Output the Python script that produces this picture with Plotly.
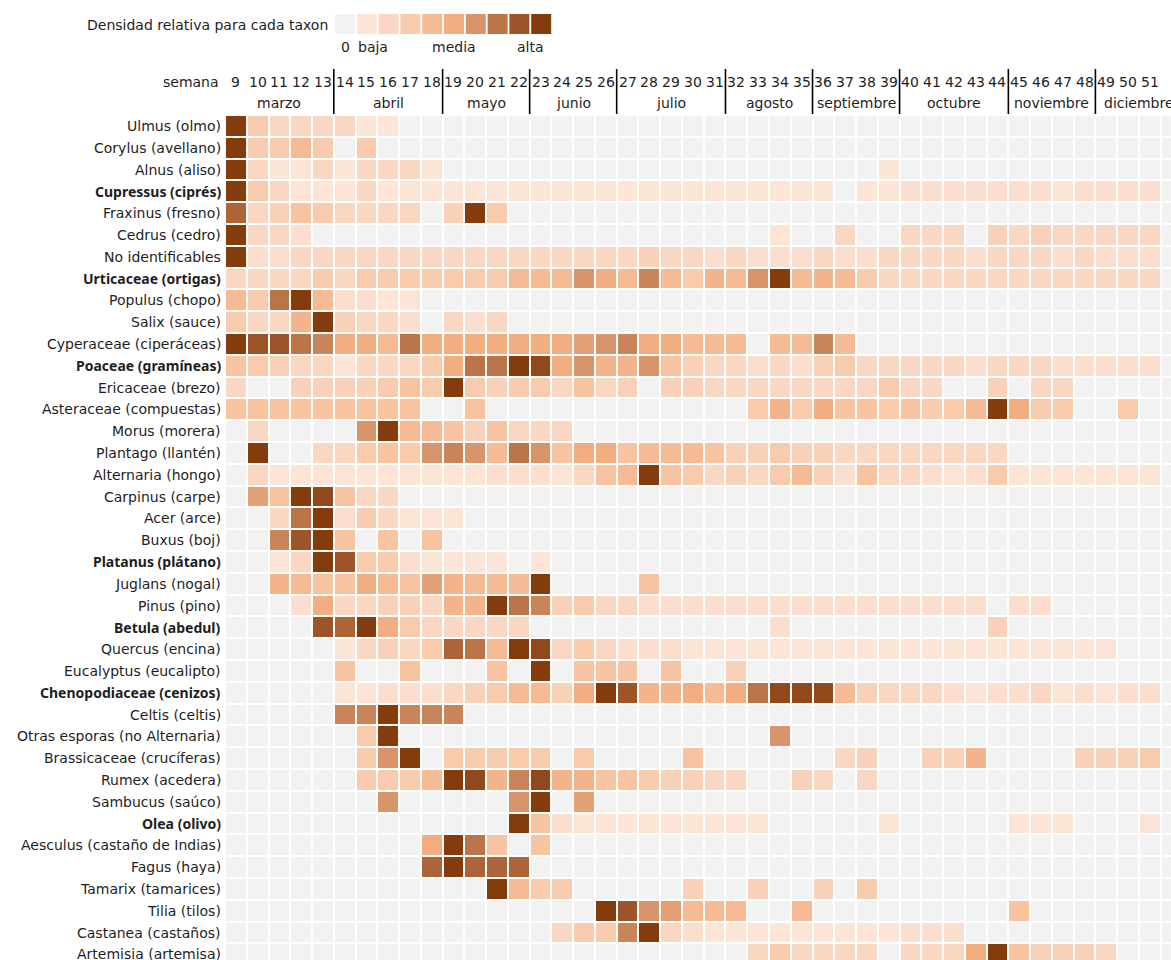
import plotly.graph_objects as go

weeks = list(range(9, 53))
week_labels = [str(w) for w in range(9, 52)]  # week 52 label falls outside the view

taxa = ["Ulmus (olmo)", "Corylus (avellano)", "Alnus (aliso)", "Cupressus (ciprés)",
        "Fraxinus (fresno)", "Cedrus (cedro)", "No identificables", "Urticaceae (ortigas)",
        "Populus (chopo)", "Salix (sauce)", "Cyperaceae (ciperáceas)", "Poaceae (gramíneas)",
        "Ericaceae (brezo)", "Asteraceae (compuestas)", "Morus (morera)", "Plantago (llantén)",
        "Alternaria (hongo)", "Carpinus (carpe)", "Acer (arce)", "Buxus (boj)",
        "Platanus (plátano)", "Juglans (nogal)", "Pinus (pino)", "Betula (abedul)",
        "Quercus (encina)", "Eucalyptus (eucalipto)", "Chenopodiaceae (cenizos)", "Celtis (celtis)",
        "Otras esporas (no Alternaria)", "Brassicaceae (crucíferas)", "Rumex (acedera)",
        "Sambucus (saúco)", "Olea (olivo)", "Aesculus (castaño de Indias)", "Fagus (haya)",
        "Tamarix (tamarices)", "Tilia (tilos)", "Castanea (castaños)", "Artemisia (artemisa)"]

bold_taxa = ["Cupressus (ciprés)", "Urticaceae (ortigas)", "Poaceae (gramíneas)",
             "Platanus (plátano)", "Betula (abedul)", "Chenopodiaceae (cenizos)", "Olea (olivo)"]

months = ["marzo", "abril", "mayo", "junio", "julio", "agosto", "septiembre",
          "octubre", "noviembre", "diciembre"]
month_first_week = [9, 14, 19, 23, 27, 32, 36, 40, 45, 49]
month_last_week = [13, 18, 22, 26, 31, 35, 39, 44, 48, 52]

# relative density level (0 = none, 1 = low ... 9 = high), weeks 9..52
# groups per month:   mar(9-13)      abr(14-18)       may(19-22)   jun(23-26)   jul(27-31)      ago(32-35)   sep(36-39)   oct(40-44)      nov(45-48)   dic(49-52)
density = [
    [9,3,2,2,2,       2,1,1,0,0,       0,0,0,0,     0,0,0,0,     0,0,0,0,0,      0,0,0,0,     0,0,0,0,     0,0,0,0,0,      0,0,0,0,     0,0,0,0],  # Ulmus
    [9,3,3,4,3,       0,3,0,0,0,       0,0,0,0,     0,0,0,0,     0,0,0,0,0,      0,0,0,0,     0,0,0,0,     0,0,0,0,0,      0,0,0,0,     0,0,0,0],  # Corylus
    [9,2,1,1,2,       1,2,2,2,1,       0,0,0,0,     0,0,0,0,     0,0,0,0,0,      0,0,0,0,     0,0,0,1,     0,0,0,0,0,      0,0,0,0,     0,0,0,0],  # Alnus
    [9,3,2,1,1,       1,2,1,1,1,       1,1,1,1,     1,1,1,1,     1,1,1,1,1,      1,1,1,1,     1,0,1,1,     1.5,1.5,1.5,1.5,1.5, 1.5,1.5,1,1.5, 1.5,1.5,1.5,0],  # Cupressus
    [7.5,2,2.5,3.5,3, 2,2,2,2,0,       2.5,9,3,0,   0,0,0,0,     0,0,0,0,0,      0,0,0,0,     0,0,0,0,     0,0,0,0,0,      0,0,0,0,     0,0,0,0],  # Fraxinus
    [9,2,2,1.5,0,     0,0,0,0,0,       0,0,0,0,     0,0,0,0,     0,0,0,0,0,      0,0,1,0,     0,2,0,0,     2,2,2,0,2.5,    2,2.5,2,2,   2,2,2,0],  # Cedrus
    [9,1.5,1.5,2,2,   2,2,2,2,2,       2,2,2,2,     2,2,2,2,     2,2.5,2,2,1.5,  2,1.5,1.5,1.5, 2,1.5,1.5,2, 2,2,2,1.5,2,    2,2,1.5,2,   1.5,1.5,1.5,0],  # No identificables
    [2,2,2,2,3,       2,3,3,3,3,       3,3,3,4,     4,4,6,5,     4,6.5,4,3,4.5,  4,6,9,4,     4.5,4,3,2,   2,2,2,2,2,      2,2,2,2,     2,2,2,0],  # Urticaceae
    [4,3,7,9,4,       1.5,1.5,1,1,0,   0,0,0,0,     0,0,0,0,     0,0,0,0,0,      0,0,0,0,     0,0,0,0,     0,0,0,0,0,      0,0,0,0,     0,0,0,0],  # Populus
    [3,2,2,4.5,9,     2.5,2,2,1.5,0,   2,1.5,2,0,   0,0,0,0,     0,0,0,0,0,      0,0,0,0,     0,0,0,0,     0,0,0,0,0,      0,0,0,0,     0,0,0,0],  # Salix
    [9,8,8,7,6.5,     5,5,4,7,5,       5,5,5,5,     5,5,5.5,6,   6.5,5,5,4,4,    4,0,4,4,     6.5,4,0,0,   0,0,0,0,0,      0,0,0,0,     0,0,0,0],  # Cyperaceae
    [3.5,3,2.5,2,2,   1,2,2,2,3,       5,7,7,9,     8.5,5,6,4.5, 4.5,6,3.5,2.5,2, 2,1.5,2,1.5, 2.5,3,2,2,   2,2,2,1.5,2,    2,2,1.5,1.5, 1.5,1.5,1.5,0],  # Poaceae
    [2,0,0,2.5,2.5,   2.5,2.5,3,3.5,3, 9,3,2.5,3,   3,2,3.5,2,   2.5,0,2.5,2.5,2, 2,2,2,2,    2,2,2,3,     2,2,0,0,2.5,    0,2,2,0,     0,0,0,0],  # Ericaceae
    [3.5,3.5,3.5,3.5,3.5, 3.5,3.5,3.5,3.5,0, 0,3.5,0,0, 0,0,0,0,   0,0,0,0,0,      0,3,4.5,3,   5,3.5,3.5,3, 3.5,3,3,4,9,    5,3,3,0,     0,3,0,0],  # Asteraceae
    [0,2,0,0,0,       0,6,9,4,4,       3.5,2.5,3.5,2, 2,2,0,0,   0,0,0,0,0,      0,0,0,0,     0,0,0,0,     0,0,0,0,0,      0,0,0,0,     0,0,0,0],  # Morus
    [0,9,0,0,2,       2,3,3.5,3,6,     6.5,6,4,7,   6,3.5,5,5,   3.5,4,4,4,3.5,  2.5,2.5,3,2.5, 2.5,2,2,2, 2,2,2,2,2,      0,0,0,0,     0,0,0,0],  # Plantago
    [0,2,1,1,1,       1,1,1,1,1,       1,1,1.5,1.5, 1.5,1,2,3.5, 4,9,3.5,3,2,    2.5,2,3,4,   2.5,1.5,3.5,2, 2,1.5,1,1.5,3, 1,1,1,1,     1,1,1,0],  # Alternaria
    [0,5.5,3.5,9,8.5, 3.5,2,2,0,0,     0,0,0,0,     0,0,0,0,     0,0,0,0,0,      0,0,0,0,     0,0,0,0,     0,0,0,0,0,      0,0,0,0,     0,0,0,0],  # Carpinus
    [0,0,2,7,9,       1.5,3,2,1,1,     1,0,0,0,     0,0,0,0,     0,0,0,0,0,      0,0,0,0,     0,0,0,0,     0,0,0,0,0,      0,0,0,0,     0,0,0,0],  # Acer
    [0,0,6.5,8,9,     3.5,0,3.5,0,3.5, 0,0,0,0,     0,0,0,0,     0,0,0,0,0,      0,0,0,0,     0,0,0,0,     0,0,0,0,0,      0,0,0,0,     0,0,0,0],  # Buxus
    [0,0,1,2,9,       8,3,3,1.5,1,     1,1,1,0,     1,0,0,0,     0,0,0,0,0,      0,0,0,0,     0,0,0,0,     0,0,0,0,0,      0,0,0,0,     0,0,0,0],  # Platanus
    [0,0,4.5,4,3.5,   3.5,5,4,3.5,5.5, 4.5,4,4,4,   9,0,0,0,     0,3.5,0,0,0,    0,0,0,0,     0,0,0,0,     0,0,0,0,0,      0,0,0,0,     0,0,0,0],  # Juglans
    [0,0,0,1.5,5,     2,2,2.5,2.5,2,   4.5,4.5,9,7, 6.5,2.5,3,2, 2,1.5,1.5,1.5,1.5, 1.5,1.5,1.5,1.5, 1.5,1.5,1.5,1.5, 1.5,1.5,1.5,1.5,0, 1.5,1.5,0,0, 0,0,0,0],  # Pinus
    [0,0,0,0,8,       7.5,9,5,3,2,     2,2,2,2,     0,0,0,0,     0,0,0,0,0,      0,0,1.5,0,   0,0,0,0,     0,0,0,0,2.5,    0,0,0,0,     0,0,0,0],  # Betula
    [0,0,0,0,0,       1,2,2.5,2,3,     7.5,7,4,9,   8.5,2,3,2,   1.5,1.5,1.5,1,1, 1,1,1,1,    1,1,1,1,     1,1,1,1,1,      1,1,1,1,     1,0,0,0],  # Quercus
    [0,0,0,0,0,       3.5,0,0,3.5,0,   0,0,3.5,0,   9,0,3.5,3.5, 3.5,0,3.5,0,0,  2.5,0,0,0,   0,0,0,0,     0,0,0,0,0,      0,0,0,0,     0,0,0,0],  # Eucalyptus
    [0,0,0,0,0,       1,1,1.5,1.5,1.5, 2,2.5,3,4,   4,2.5,5,9,   8,4.5,4.5,5,4,  5,7,8.5,8.5, 8.5,4,2.5,2, 2,2,1.5,1,1.5,  1.5,2,1,1.5, 1,1.5,1.5,0],  # Chenopodiaceae
    [0,0,0,0,0,       6.5,6.5,9,6.5,6.5, 6.5,0,0,0, 0,0,0,0,     0,0,0,0,0,      0,0,0,0,     0,0,0,0,     0,0,0,0,0,      0,0,0,0,     0,0,0,0],  # Celtis
    [0,0,0,0,0,       0,3,9,0,0,       0,0,0,0,     0,0,0,0,     0,0,0,0,0,      0,0,6,0,     0,0,0,0,     0,0,0,0,0,      0,0,0,0,     0,0,0,0],  # Otras esporas
    [0,0,0,0,0,       0,3,6,9,0,       3,3,3,3,     3,0,3,0,     0,0,0,3.5,0,    0,0,0,0,     0,2,2.5,0,   0,2.5,2.5,4.5,0, 0,0,0,2.5,   2.5,2.5,3,0],  # Brassicaceae
    [0,0,0,0,0,       0,3,3,3,4,       9,8.5,4.5,6.5, 8.5,4.5,4.5,3.5, 3.5,3,2.5,2.5,2, 2,0,0,2.5, 2,0,2,0,   0,0,0,0,0,      0,0,0,0,     0,0,0,0],  # Rumex
    [0,0,0,0,0,       0,0,6,0,0,       0,0,0,6,     9,0,5.5,0,   0,0,0,0,0,      0,0,0,0,     0,0,0,0,     0,0,0,0,0,      0,0,0,0,     0,0,0,0],  # Sambucus
    [0,0,0,0,0,       0,0,0,0,0,       0,0,0,9,     3.5,1.5,1,1, 1,1,1,1,1,      1,1,0,0,     0,0,0,1,     0,0,0,0,0,      1,1,1,0,     0,0,1,0],  # Olea
    [0,0,0,0,0,       0,0,0,0,5,       9,7,3.5,0,   3.5,0,0,0,   0,0,0,0,0,      0,0,0,0,     0,0,0,0,     0,0,0,0,0,      0,0,0,0,     0,0,0,0],  # Aesculus
    [0,0,0,0,0,       0,0,0,0,7.5,     9,7.5,7.5,7.5, 0,0,0,0,   0,0,0,0,0,      0,0,0,0,     0,0,0,0,     0,0,0,0,0,      0,0,0,0,     0,0,0,0],  # Fagus
    [0,0,0,0,0,       0,0,0,0,0,       0,0,9,4,     3,3,0,0,     0,0,0,2.5,0,    0,2.5,0,0,   2.5,0,3,0,   0,0,0,0,0,      0,0,0,0,     0,0,0,0],  # Tamarix
    [0,0,0,0,0,       0,0,0,0,0,       0,0,0,0,     0,0,0,9,     8,6,5.5,4,4,    4,0,0,4,     0,0,0,0,     0,0,0,0,0,      3.5,0,0,0,   0,0,0,0],  # Tilia
    [0,0,0,0,0,       0,0,0,0,0,       0,0,0,0,     0,2,3,3,     6.5,9,2,1.5,1,  1,1,1,1,     1,1,1,1,     1.5,1.5,1.5,0,0, 0,0,0,0,     0,0,0,0],  # Castanea
    [0,0,0,0,0,       0,0,0,0,0,       0,0,0,0,     0,0,0,0,     0,0,0,0,0,      0,2,3,2,     2,2,2,0,     2,2,2,5,9,      3.5,2.5,2.5,2.5, 2,0,0,0],  # Artemisia
]

level_colors = ["#f2f2f2", "#fce4d6", "#fad7c3", "#f8cbad", "#f6bb95", "#f2ad81",
                "#d8946a", "#bb7447", "#9e5428", "#843c0c"]
legend_labels = ["0", "baja", "media", "alta"]
legend_label_level = [0, 1.3, 5, 8.5]

# ---------------- layout geometry (pixels) ----------------
W, H = 1171, 960
ML, MT = 225, 115
PW, PH = W - ML, H - MT
FONT = "DejaVu Sans"
BOLD_FONT = "Noto Sans"
FS = 14
TXT = "#1e1e1e"


def px(x):
    return (x - ML) / PW


def py(y):
    return (H - y) / PH


colorscale = [[0.0, level_colors[0]], [0.5 / 9, level_colors[0]], [0.5 / 9 + 1e-6, level_colors[1]]]
for i in range(1, 10):
    colorscale.append([i / 9, level_colors[i]])

rows = list(range(len(taxa)))
fig = go.Figure(go.Heatmap(
    z=density, x=weeks, y=rows,
    zmin=0, zmax=9, colorscale=colorscale, showscale=False,
    xgap=2, ygap=2, hoverinfo="skip",
))

annotations = []
shapes = []
tfont = dict(family=FONT, size=FS, color=TXT)
bfont = dict(family=BOLD_FONT, size=FS, color=TXT)

# taxon labels
for r, t in zip(rows, taxa):
    is_bold = t in bold_taxa
    annotations.append(dict(text=("<b>%s</b>" % t) if is_bold else t,
                            x=px(223), y=r, xref="paper", yref="y",
                            xanchor="right", yanchor="middle", showarrow=False,
                            font=bfont if is_bold else tfont))

# week numbers
annotations.append(dict(text="semana", x=px(221), y=py(82), xref="paper", yref="paper",
                        xanchor="right", yanchor="middle", showarrow=False, font=tfont))
for w, lab in zip(weeks, week_labels):
    annotations.append(dict(text=lab, x=w, y=py(82), xref="x", yref="paper",
                            xanchor="center", yanchor="middle", showarrow=False, font=tfont))
# months
for name, a, b in zip(months, month_first_week, month_last_week):
    annotations.append(dict(text=name, x=(a + b) / 2, y=py(103), xref="x", yref="paper",
                            xanchor="center", yanchor="middle", showarrow=False, font=tfont))
for a in month_first_week[1:]:
    shapes.append(dict(type="line", xref="x", yref="paper", x0=a - 0.5, x1=a - 0.5,
                       y0=py(69), y1=py(114), line=dict(color="black", width=1.6)))

# legend
annotations.append(dict(text="Densidad relativa para cada taxon", x=px(330), y=py(25),
                        xref="paper", yref="paper", xanchor="right", yanchor="middle",
                        showarrow=False, font=tfont))
cell = 21.8
for i, c in enumerate(level_colors):
    x0 = 335 + i * cell
    shapes.append(dict(type="rect", xref="paper", yref="paper", x0=px(x0), x1=px(x0 + 20),
                       y0=py(34), y1=py(14), fillcolor=c, line=dict(width=0)))
for lab, lv in zip(legend_labels, legend_label_level):
    cx = 335 + lv * cell + 10
    annotations.append(dict(text=lab, x=px(cx), y=py(47), xref="paper", yref="paper",
                            xanchor="center", yanchor="middle", showarrow=False, font=tfont))

fig.update_layout(
    width=W, height=H, margin=dict(l=ML, r=0, t=MT, b=0, pad=0),
    paper_bgcolor="white", plot_bgcolor="white",
    font=tfont, annotations=annotations, shapes=shapes, showlegend=False,
)
fig.update_xaxes(range=[8.5, 8.5 + PW / 21.76], showticklabels=False, showgrid=False,
                 zeroline=False, ticks="", showline=False)
fig.update_yaxes(range=[-0.5 + PH / 21.8, -0.5], showticklabels=False, showgrid=False,
                 zeroline=False, ticks="", showline=False)

fig.write_html("out.html", config={"displayModeBar": False},
               post_script="document.body.style.margin='0';")
